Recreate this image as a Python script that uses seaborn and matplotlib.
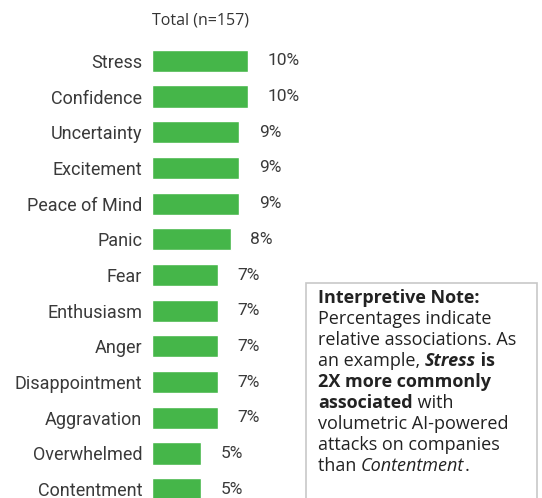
import matplotlib
matplotlib.use("Agg")
import matplotlib.pyplot as plt
import seaborn as sns
import pandas as pd
from matplotlib.patches import Rectangle

categories = ["Stress", "Confidence", "Uncertainty", "Excitement", "Peace of Mind",
              "Panic", "Fear", "Enthusiasm", "Anger", "Disappointment",
              "Aggravation", "Overwhelmed", "Contentment"]
values = [10.0, 10.0, 9.1, 9.1, 9.1, 8.2, 6.9, 6.9, 6.9, 6.9, 6.9, 5.1, 5.1]
value_labels = ["10%", "10%", "9%", "9%", "9%", "8%", "7%", "7%", "7%", "7%", "7%", "5%", "5%"]
title = "Total (n=157)"

sns.set_theme(style="white")
plt.rcParams["font.family"] = ["Roboto", "DejaVu Sans"]

W, H = 542, 498
fig = plt.figure(figsize=(W / 100, H / 100), dpi=100)
ax_left, ax_right = 152, 536
ax_top, ax_bot = 43, 507
ax = fig.add_axes([ax_left / W, 1 - ax_bot / H, (ax_right - ax_left) / W, (ax_bot - ax_top) / H])

df = pd.DataFrame({"category": categories, "value": values})
sns.barplot(data=df, x="value", y="category", orient="h", color="#45B649",
            saturation=1, width=0.62, ax=ax)
ax.set_xlim(0, 40)
ax.set_ylim(len(categories) - 0.5, -0.5)
for s in ax.spines.values():
    s.set_visible(False)
ax.set_xticks([])
ax.set_xlabel("")
ax.set_ylabel("")
ax.tick_params(axis="y", length=0, pad=7, labelsize=13, labelcolor="#3a3a3a")

for i, (v, lab) in enumerate(zip(values, value_labels)):
    ax.annotate(lab, (v, i), xytext=(14, 0), textcoords="offset points",
                va="center", ha="left", fontsize=12.5, color="#3a3a3a")

fig.text(152 / W, 1 - 20 / H, title, ha="left", va="center", fontsize=11.5,
         color="#333333", family=["Open Sans", "DejaVu Sans"])

# note box
fig.patches.append(Rectangle((306 / W, 1 - 503 / H), (537 - 306) / W, (503 - 283) / H,
                             transform=fig.transFigure, fill=True, facecolor="white",
                             edgecolor="#c8c8c8", linewidth=1.2))

lines = [
    [("Interpretive Note:", "bold", "normal")],
    [("Percentages indicate", "normal", "normal")],
    [("relative associations. As", "normal", "normal")],
    [("an example, ", "normal", "normal"), ("Stress", "bold", "italic"), (" is", "bold", "normal")],
    [("2X more commonly", "bold", "normal")],
    [("associated", "bold", "normal"), (" with", "normal", "normal")],
    [("volumetric AI-powered", "normal", "normal")],
    [("attacks on companies", "normal", "normal")],
    [("than ", "normal", "normal"), ("Contentment", "normal", "italic"), (".", "normal", "normal")],
]
fig.canvas.draw()
renderer = fig.canvas.get_renderer()
y0 = 298
dy = 21
for li, segs in enumerate(lines):
    x = 318
    y = y0 + li * dy
    for txt, wt, st in segs:
        t = fig.text(x / W, 1 - y / H, txt, ha="left", va="center", fontsize=13,
                     fontweight=wt, fontstyle=st, color="#222222",
                     family=["Open Sans", "DejaVu Sans"])
        bb = t.get_window_extent(renderer=renderer)
        x += bb.width

fig.savefig("out.png", dpi=100)
